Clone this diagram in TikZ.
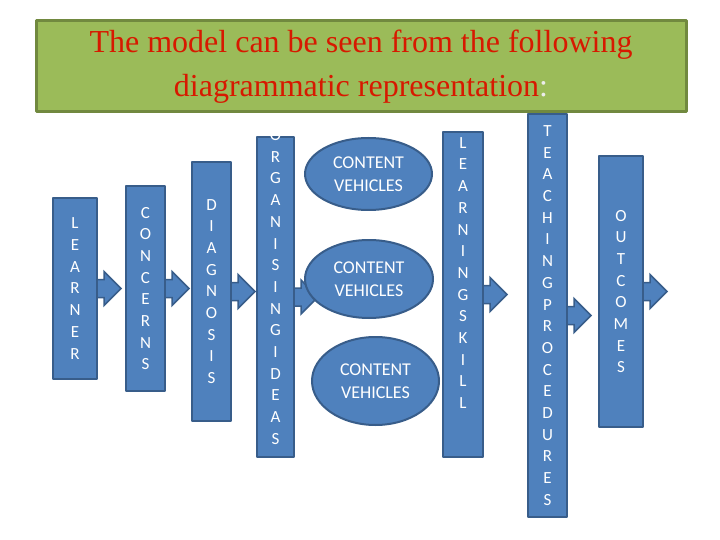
\documentclass[tikz,border=0pt]{standalone}
\usepackage{fontspec}
\setmainfont{Liberation Serif}
\newfontfamily\calib{Carlito}
\usetikzlibrary{shapes.geometric,backgrounds}
\definecolor{barblue}{RGB}{79,129,189}
\definecolor{bardark}{RGB}{56,93,138}
\definecolor{bannergreen}{RGB}{155,187,89}
\definecolor{bannerdark}{RGB}{113,137,63}
\definecolor{titlered}{RGB}{215,25,0}
\definecolor{colonwhite}{RGB}{236,236,236}
% block arrow leaving the right side of a bar
\newcommand\blockarrow[1]{\draw[arrowshape] ([xshift=-3pt]#1.east) ++(0,-9) -- ++(9,0) -- ++(0,-8) -- ++(17,17) -- ++(-17,17) -- ++(0,-8) -- ++(-9,0) -- cycle;}
\begin{document}
\begin{tikzpicture}[x=1pt, y=-1pt, line join=round,
	bar/.style={draw=bardark, fill=barblue, line width=2pt, inner sep=0pt, text=white, align=center, font=\calib\fontsize{17}{21.7}\selectfont},
	barletters/.style={text=white, align=center, inner sep=0pt, font=\calib\fontsize{17}{21.7}\selectfont},
	vehicle/.style={ellipse, draw=bardark, fill=barblue, line width=2pt, inner sep=0pt, text=white, align=center, font=\calib\fontsize{18}{22.5}\selectfont},
	banner/.style={draw=bannerdark, fill=bannergreen, line width=3pt, text=titlered, align=center, font=\fontsize{32}{44}\selectfont},
	arrowshape/.style={draw=bardark, fill=barblue, line width=1.5pt, line join=miter}]
	\useasboundingbox (0,0) rectangle (720,540);
	% heading
	\node[banner, minimum width=650, minimum height=91] (title) at (361,66.5) {The model can be seen from the following\\diagrammatic representation{\color{colonwhite}:}};
	% bars
	\node[bar, minimum width=44, minimum height=181] (learner) at (75,288.5) {L\\E\\A\\R\\N\\E\\R};
	\node[bar, minimum width=39, minimum height=205] (concerns) at (145.5,288.5) {C\\O\\N\\C\\E\\R\\N\\S};
	\node[bar, minimum width=39, minimum height=259] (diagnosis) at (211.5,291.5) {D\\I\\A\\G\\N\\O\\S\\I\\S};
	\node[bar, minimum width=37, minimum height=320] (organising) at (275.5,297) {};
	\node[barletters] (organisingtext) at (275.5,287) {O\\R\\G\\A\\N\\I\\S\\I\\N\\G\\I\\D\\E\\A\\S};
	\node[vehicle, minimum width=127, minimum height=72] (vehicleA) at (368.5,174) {CONTENT\\VEHICLES};
	\node[vehicle, minimum width=128, minimum height=78] (vehicleB) at (369,279) {CONTENT\\VEHICLES};
	\node[vehicle, minimum width=127, minimum height=88] (vehicleC) at (375.5,381) {CONTENT\\VEHICLES};
	\node[bar, minimum width=40, minimum height=325] (skill) at (463,294.5) {};
	\node[barletters] (skilltext) at (463,273) {L\\E\\A\\R\\N\\I\\N\\G\\S\\K\\I\\L\\L};
	\node[bar, minimum width=39, minimum height=403] (teaching) at (547.5,315.5) {T\\E\\A\\C\\H\\I\\N\\G\\P\\R\\O\\C\\E\\D\\U\\R\\E\\S};
	\node[bar, minimum width=44, minimum height=271] (outcomes) at (621,291.5) {O\\U\\T\\C\\O\\M\\E\\S};
	% arrows behind the bars
	\begin{scope}[on background layer]
		\foreach \n in {learner,concerns,diagnosis,organising,skill,teaching,outcomes}
			\blockarrow{\n};
	\end{scope}
\end{tikzpicture}
\end{document}
